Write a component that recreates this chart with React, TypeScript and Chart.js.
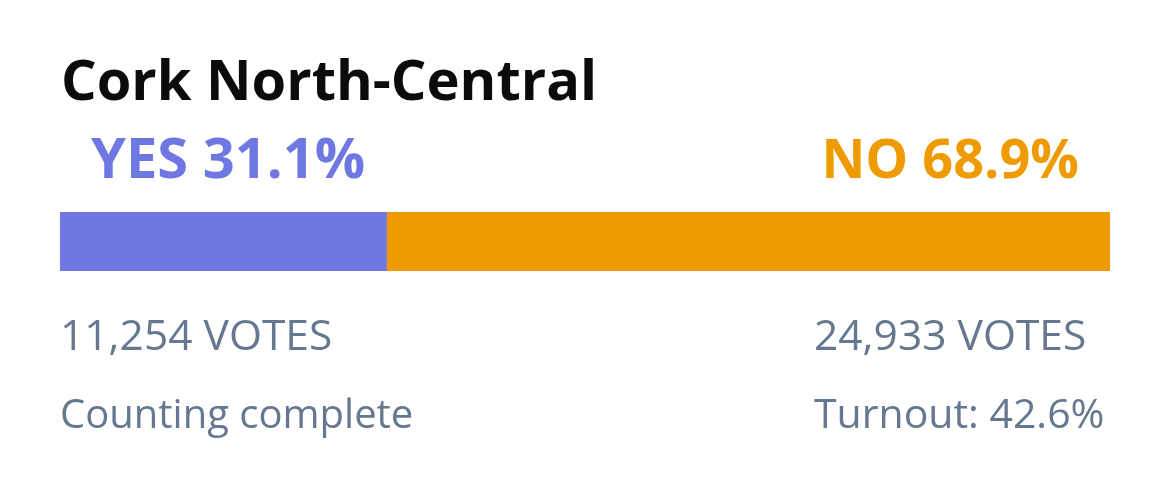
import React, { useEffect, useRef } from "react";
import { Chart, registerables } from "chart.js";

Chart.register(...registerables);

const title = "Cork North-Central";
const categories = ["Cork North-Central"];
const sideLabels = ["YES", "NO"];
const percentages = [31.1, 68.9];
const votes = ["11,254", "24,933"];
const statusText = "Counting complete";
const turnoutText = "Turnout: 42.6%";
const colors = ["#6f77e2", "#ee9a00"];

const textPlugin = {
  id: "resultText",
  afterDraw(chart: any) {
    const { ctx, chartArea } = chart;
    const L = chartArea.left;
    const R = chartArea.right;
    ctx.save();
    ctx.textBaseline = "alphabetic";
    // title
    ctx.fillStyle = "#0b0b0b";
    ctx.font = "bold 56px 'Open Sans'";
    ctx.textAlign = "left";
    ctx.fillText(title, L + 1, 100);
    // percentages
    ctx.font = "bold 56px 'Open Sans'";
    ctx.fillStyle = colors[0];
    ctx.fillText(`${sideLabels[0]} ${percentages[0]}%`, L + 31, 178);
    ctx.font = "bold 54px 'Open Sans'";
    ctx.fillStyle = colors[1];
    ctx.textAlign = "right";
    ctx.fillText(`${sideLabels[1]} ${percentages[1]}%`, R - 31, 178);
    // votes
    ctx.fillStyle = "#66788f";
    ctx.textAlign = "left";
    ctx.font = "42.5px 'Open Sans'";
    ctx.fillText(`${votes[0]} VOTES`, L, 350);
    ctx.fillText(`${votes[1]} VOTES`, 814, 350);
    ctx.font = "40px 'Open Sans'";
    ctx.fillText(statusText, L, 428);
    ctx.font = "41px 'Open Sans'";
    ctx.fillText(turnoutText, 814, 428);
    ctx.restore();
  },
};

export default function App() {
  const ref = useRef<HTMLCanvasElement>(null);
  useEffect(() => {
    if (!ref.current) return;
    const chart = new Chart(ref.current, {
      type: "bar",
      data: {
        labels: categories,
        datasets: sideLabels.map((s, i) => ({
          label: s,
          data: [percentages[i]],
          backgroundColor: colors[i],
          borderWidth: 0,
          barPercentage: 1,
          categoryPercentage: 1,
        })),
      },
      options: {
        indexAxis: "y",
        animation: false,
        responsive: true,
        maintainAspectRatio: false,
        layout: { padding: { left: 60, right: 60, top: 212, bottom: 215 } },
        scales: {
          x: { stacked: true, min: 0, max: 100, display: false },
          y: { stacked: true, display: false },
        },
        plugins: {
          legend: { display: false },
          tooltip: { enabled: false },
          title: { display: false },
        },
      },
      plugins: [textPlugin],
    });
    return () => chart.destroy();
  }, []);
  return (
    <div style={{ position: "absolute", left: 0, top: 0, width: 1170, height: 486, background: "#fff" }}>
      <canvas ref={ref} />
    </div>
  );
}
